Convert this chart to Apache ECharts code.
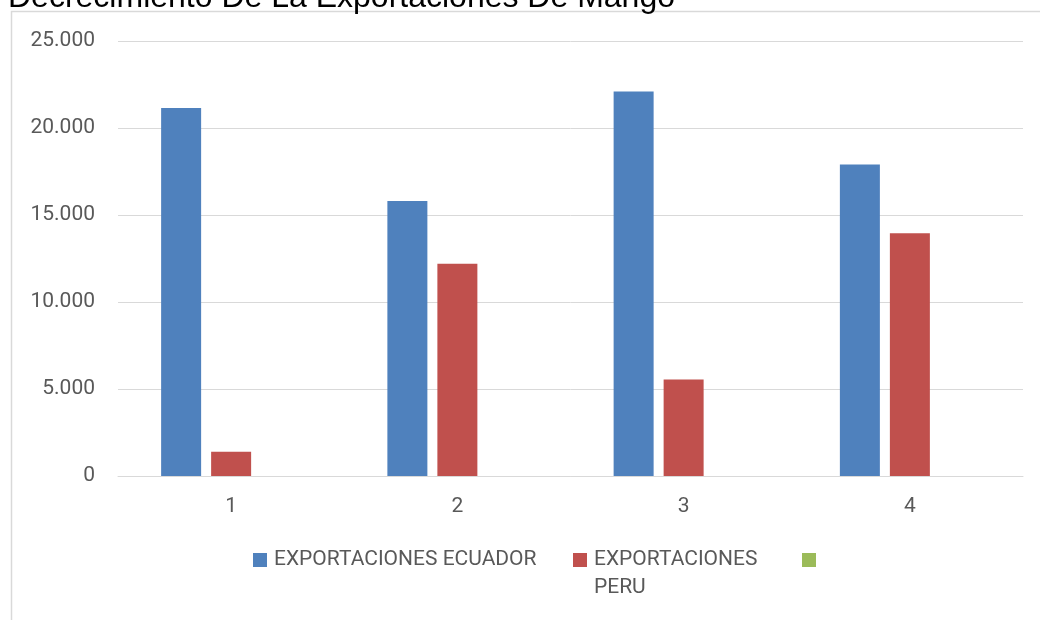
<!DOCTYPE html>
<html>
<head>
<meta charset="utf-8">
<script src="https://cdn.jsdelivr.net/npm/echarts@6/dist/echarts.min.js"></script>
<style>
  html, body { margin: 0; padding: 0; background: #ffffff; }
  #chart { width: 1040px; height: 620px; }
</style>
</head>
<body>
<div id="chart"></div>
<script>
// Mango export volumes per period, Ecuador vs. Peru
const categories = ['1', '2', '3', '4'];
const ecuadorValues = [21150, 15800, 22100, 17900];
const peruValues = [1400, 12200, 5550, 13950];
const thirdValues = [null, null, null, null];
const yTicks = { min: 0, max: 25000, interval: 5000 };

const TEXT_GRAY = '#595959';
const GRID_GRAY = '#d9d9d9';
const FONT = 'Roboto';

function thousands(v) {
  return String(v).replace(/\B(?=(\d{3})+(?!\d))/g, '.');
}

const chart = echarts.init(document.getElementById('chart'), null, { renderer: 'canvas' });

chart.setOption({
  backgroundColor: '#ffffff',
  animation: false,
  title: {
    text: 'Decrecimiento De La Exportaciones De Mango',
    left: 8,
    top: -18,
    padding: 0,
    textStyle: {
      fontFamily: 'Liberation Sans, Arial, sans-serif',
      fontSize: 32,
      fontWeight: 'normal',
      color: '#000000'
    }
  },
  graphic: [{
    type: 'rect',
    z: -1,
    silent: true,
    shape: { x: 11.5, y: 11.5, width: 1200, height: 800 },
    style: { fill: null, stroke: GRID_GRAY, lineWidth: 1.5 }
  }],
  grid: { left: 118, right: 17, top: 41, bottom: 144, containLabel: false },
  legend: {
    left: 253,
    top: 518,
    padding: 0,
    itemWidth: 14,
    itemHeight: 14,
    itemGap: 30,
    icon: 'rect',
    textStyle: {
      fontFamily: FONT,
      fontSize: 21,
      color: TEXT_GRAY,
      lineHeight: 28,
      padding: [0, 0, 0, 2]
    },
    data: [
      { name: 'EXPORTACIONES ECUADOR', textStyle: { width: 269 } },
      { name: 'EXPORTACIONES PERU', textStyle: { width: 178 } },
      { name: ' ' }
    ],
    // the Peru label wraps onto a second line; a leading blank line keeps
    // its first line level with the swatch
    formatter: function (name) {
      return name === 'EXPORTACIONES PERU' ? '\nEXPORTACIONES\nPERU' : name;
    }
  },
  xAxis: {
    type: 'category',
    data: categories,
    axisTick: { show: false },
    axisLine: { show: true, lineStyle: { color: GRID_GRAY, width: 1 } },
    axisLabel: { color: TEXT_GRAY, fontFamily: FONT, fontSize: 21, margin: 20 }
  },
  yAxis: {
    type: 'value',
    min: yTicks.min,
    max: yTicks.max,
    interval: yTicks.interval,
    axisLine: { show: false },
    axisTick: { show: false },
    splitLine: { lineStyle: { color: GRID_GRAY, width: 1 } },
    axisLabel: {
      color: TEXT_GRAY, fontFamily: FONT, fontSize: 21, margin: 23,
      formatter: thousands
    }
  },
  series: [
    {
      name: 'EXPORTACIONES ECUADOR',
      type: 'bar',
      data: ecuadorValues,
      barWidth: 40,
      barGap: '25%',
      itemStyle: { color: '#4f81bd' }
    },
    {
      name: 'EXPORTACIONES PERU',
      type: 'bar',
      data: peruValues,
      barWidth: 40,
      barGap: '25%',
      itemStyle: { color: '#c0504d' }
    },
    {
      name: ' ',
      type: 'bar',
      data: thirdValues,
      barWidth: 40,
      barGap: '25%',
      itemStyle: { color: '#9bbb59' }
    }
  ]
});
</script>
</body>
</html>
